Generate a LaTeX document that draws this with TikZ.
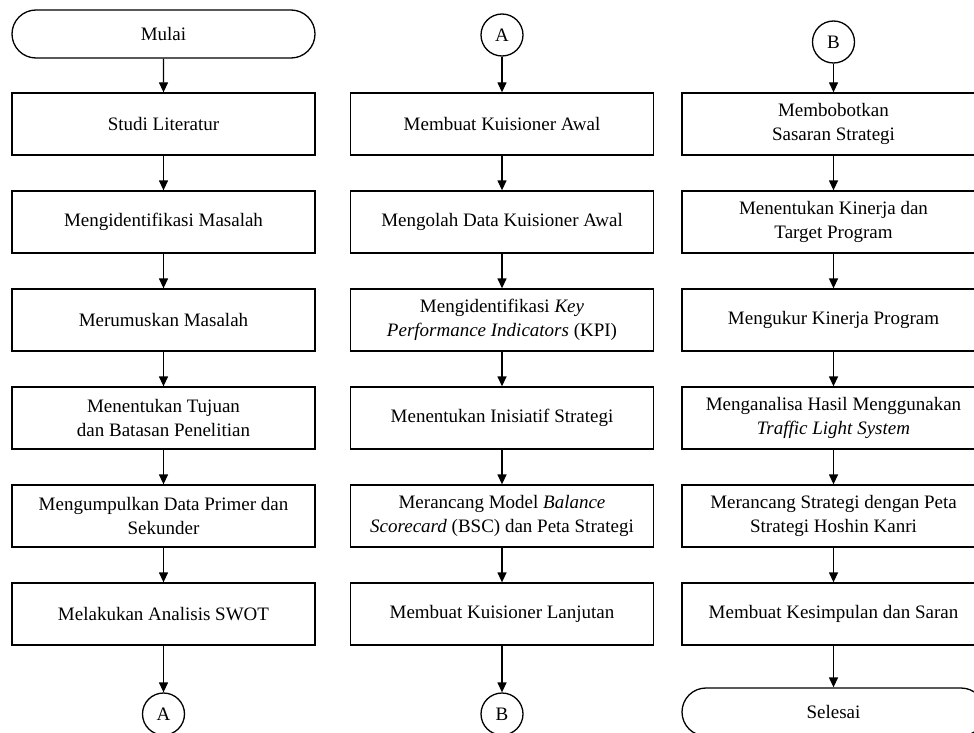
\documentclass[tikz,border=0pt]{standalone}
\usepackage{fontspec}
\setmainfont{Liberation Serif}
\usetikzlibrary{arrows.meta,shapes.misc}
\tikzset{
  stepbox/.style={draw, line width=1.3pt, minimum width=303pt, minimum height=62pt, inner sep=0pt, align=center, font=\fontsize{19}{24}\selectfont},
  conn/.style={draw, circle, line width=1.3pt, minimum size=42pt, inner sep=0pt, font=\fontsize{19}{19}\selectfont},
  term/.style={draw, rounded rectangle, line width=1.3pt, minimum width=303pt, minimum height=48pt, inner sep=0pt, font=\fontsize{19}{19}\selectfont},
  flow/.style={line width=1.3pt, -{Triangle[length=10pt,width=9pt]}}
}
\begin{document}
\begin{tikzpicture}[x=1pt,y=-1pt]
\useasboundingbox (0,0) rectangle (974,733);
\clip (0,0) rectangle (974,733);
% column 1
\node[term] (mulai) at (163.5,34) {Mulai};
\node[stepbox] (a1) at (163.5,124) {Studi Literatur};
\node[stepbox] (a2) at (163.5,222) {Mengidentifikasi Masalah};
\node[stepbox] (a3) at (163.5,320) {Merumuskan Masalah};
\node[stepbox] (a4) at (163.5,418) {Menentukan Tujuan\\dan Batasan Penelitian};
\node[stepbox] (a5) at (163.5,516) {Mengumpulkan Data Primer dan\\Sekunder};
\node[stepbox] (a6) at (163.5,614) {Melakukan Analisis SWOT};
\node[conn] (ca1) at (163.5,714) {A};
% column 2
\node[conn] (ca2) at (502,35) {A};
\node[stepbox] (b1) at (502,124) {Membuat Kuisioner Awal};
\node[stepbox] (b2) at (502,222) {Mengolah Data Kuisioner Awal};
\node[stepbox] (b3) at (502,320) {Mengidentifikasi \textit{Key}\\\textit{Performance Indicators} (KPI)};
\node[stepbox] (b4) at (502,418) {Menentukan Inisiatif Strategi};
\node[stepbox] (b5) at (502,516) {Merancang Model \textit{Balance}\\\textit{Scorecard} (BSC) dan Peta Strategi};
\node[stepbox] (b6) at (502,614) {Membuat Kuisioner Lanjutan};
\node[conn] (cb2) at (502,714) {B};
% column 3
\node[conn] (cb3) at (833.5,42) {B};
\node[stepbox] (c1) at (833.5,124) {Membobotkan\\Sasaran Strategi};
\node[stepbox] (c2) at (833.5,222) {Menentukan Kinerja dan\\Target Program};
\node[stepbox] (c3) at (833.5,320) {Mengukur Kinerja Program};
\node[stepbox] (c4) at (833.5,418) {Menganalisa Hasil Menggunakan\\\textit{Traffic Light System}};
\node[stepbox] (c5) at (833.5,516) {Merancang Strategi dengan Peta\\Strategi Hoshin Kanri};
\node[stepbox] (c6) at (833.5,614) {Membuat Kesimpulan dan Saran};
\node[term] (selesai) at (833.5,712) {Selesai};
% connectors
\draw[flow] (mulai) -- (a1);
\draw[flow] (a1) -- (a2);
\draw[flow] (a2) -- (a3);
\draw[flow] (a3) -- (a4);
\draw[flow] (a4) -- (a5);
\draw[flow] (a5) -- (a6);
\draw[flow] (a6) -- (ca1);
\draw[flow] (ca2) -- (b1);
\draw[flow] (b1) -- (b2);
\draw[flow] (b2) -- (b3);
\draw[flow] (b3) -- (b4);
\draw[flow] (b4) -- (b5);
\draw[flow] (b5) -- (b6);
\draw[flow] (b6) -- (cb2);
\draw[flow] (cb3) -- (c1);
\draw[flow] (c1) -- (c2);
\draw[flow] (c2) -- (c3);
\draw[flow] (c3) -- (c4);
\draw[flow] (c4) -- (c5);
\draw[flow] (c5) -- (c6);
\draw[flow] (c6) -- (selesai);
\end{tikzpicture}
\end{document}
